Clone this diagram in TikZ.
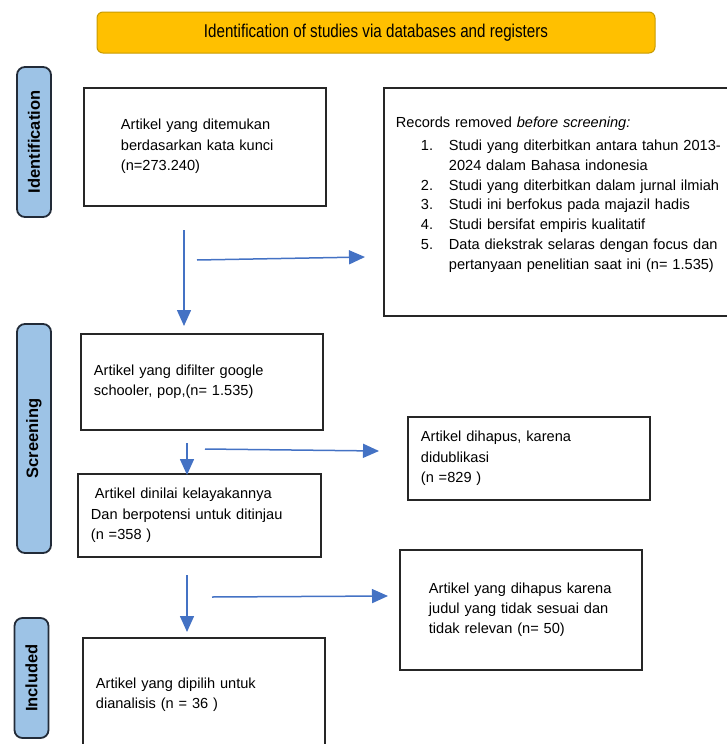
\documentclass[tikz,border=0pt]{standalone}
\usepackage{fontspec}
\setmainfont{Liberation Sans}
\newfontfamily\bannerfont[FakeStretch=0.82]{Liberation Sans}
\usepackage{tikz}
\usetikzlibrary{arrows.meta}
\definecolor{banner}{HTML}{FFC000}
\definecolor{bannerline}{HTML}{C89B00}
\definecolor{phase}{HTML}{9DC3E6}
\definecolor{phaseline}{HTML}{222B38}
\definecolor{flow}{HTML}{4472C4}
\definecolor{boxline}{HTML}{262626}

\begin{document}
\begin{tikzpicture}[x=1pt, y=-1pt,
    every node/.style={font=\fontsize{14.6}{20.3}\selectfont},
    box/.style={draw=boxline, line width=1.8pt, anchor=north west, align=left, inner ysep=0pt},
    phasebox/.style={draw=phaseline, fill=phase, line width=1.8pt, rounded corners=8pt, rotate=90,
        minimum height=34pt, inner sep=0pt, font=\fontsize{16.5}{18}\selectfont\bfseries},
    bannerbox/.style={draw=bannerline, fill=banner, line width=1pt, rounded corners=6pt,
        minimum width=558pt, minimum height=41pt, font=\bannerfont\fontsize{18.5}{20}\selectfont},
    flowarrow/.style={-{Triangle[length=16pt,width=14pt]}, draw=flow, line width=1.5pt}]
    \useasboundingbox (0,0) rectangle (727,744);

    \node[bannerbox] (title) at (376,32.5) {Identification of studies via databases and registers};

    \node[phasebox, minimum width=150pt] (ident) at (34,142) {Identification};
    \node[phasebox, minimum width=229pt] (screen) at (34,438.5) {Screening};
    \node[phasebox, minimum width=120pt] (incl) at (31.5,678) {Included};

    \node[box, text width=168pt, inner xsep=37pt, minimum height=118pt] (found) at (83,87)
        {Artikel yang ditemukan\\berdasarkan kata kunci\\(n=273.240)\rule[-4pt]{0pt}{0pt}};
    \node[box, text width=333pt, inner xsep=12pt, minimum height=228pt,
        font=\fontsize{14.6}{19.8}\selectfont] (removed) at (383,87)
        {Records removed \textit{before screening:}\\[3.5pt]
        \hspace*{25pt}\makebox[28pt][l]{1.}Studi yang diterbitkan antara tahun 2013-\\
        \hspace*{53pt}2024 dalam Bahasa indonesia\\
        \hspace*{25pt}\makebox[28pt][l]{2.}Studi yang diterbitkan dalam jurnal ilmiah\\
        \hspace*{25pt}\makebox[28pt][l]{3.}Studi ini berfokus pada majazil hadis\\
        \hspace*{25pt}\makebox[28pt][l]{4.}Studi bersifat empiris kualitatif\\
        \hspace*{25pt}\makebox[28pt][l]{5.}Data diekstrak selaras dengan focus dan\\
        \hspace*{53pt}pertanyaan penelitian saat ini (n= 1.535)\rule[-18pt]{0pt}{0pt}};
    \node[box, text width=216pt, inner xsep=13pt, minimum height=96pt] (filtered) at (80,333)
        {Artikel yang difilter google\\schooler, pop,(n= 1.535)};
    \node[box, text width=216pt, inner xsep=13pt, minimum height=83pt] (duplicate) at (407,416)
        {Artikel dihapus, karena\\didublikasi\\(n =829 )};
    \node[box, text width=217pt, inner xsep=13pt, minimum height=83pt] (eligible) at (77,473)
        {\hspace*{4pt}Artikel dinilai kelayakannya\\Dan berpotensi untuk ditinjau\\(n =358 )};
    \node[box, text width=184pt, inner xsep=29pt, minimum height=120pt] (irrelevant) at (399,549)
        {Artikel yang dihapus karena\\judul yang tidak sesuai dan\\tidak relevan (n= 50)};
    \node[box, text width=216pt, inner xsep=13pt, minimum height=113pt] (chosen) at (82,637)
        {Artikel yang dipilih untuk\\dianalisis (n = 36 )};

    \coordinate (d1a) at (184,230);
    \coordinate (d1b) at (184,326);
    \coordinate (r1a) at (197,260);
    \coordinate (r1b) at (365,257);
    \coordinate (d2a) at (187,443);
    \coordinate (d2b) at (187,475);
    \coordinate (r2a) at (205,449);
    \coordinate (r2b) at (379,451);
    \coordinate (d3a) at (187,575);
    \coordinate (d3b) at (187,632);
    \coordinate (r3a) at (212,597);
    \coordinate (r3b) at (388,596);

    \draw[flowarrow] (d1a) -- (d1b);
    \draw[flowarrow] (r1a) -- (r1b);
    \draw[flowarrow] (d2a) -- (d2b);
    \draw[flowarrow] (r2a) -- (r2b);
    \draw[flowarrow] (d3a) -- (d3b);
    \draw[flowarrow] (r3a) -- (r3b);
\end{tikzpicture}
\end{document}
